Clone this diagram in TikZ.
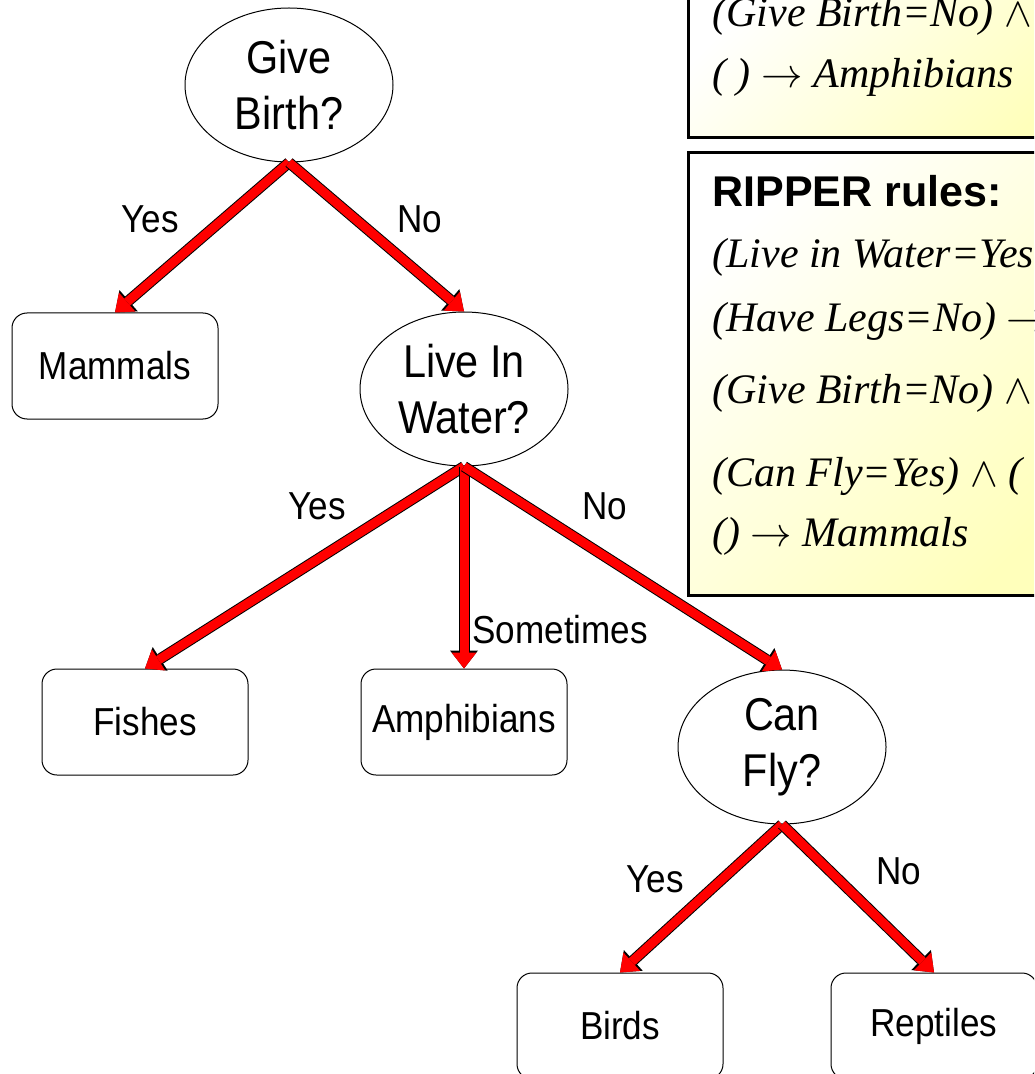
\documentclass[tikz,border=0pt]{standalone}
\usepackage{fontspec}
\setmainfont{Liberation Serif}
\setsansfont{Liberation Sans}
\newfontfamily\treefont{Liberation Sans}[FakeStretch=0.9]
\usepackage{tikz}
\usetikzlibrary{shapes.geometric, arrows.meta, positioning}
\definecolor{branch}{HTML}{FF0000}
\definecolor{rulefill}{HTML}{FFFFBB}
\tikzset{
  question/.style={
    ellipse, draw=black, line width=0.5pt, inner sep=0pt,
    minimum width=104pt, minimum height=77pt, align=center,
    font=\treefont\fontsize{23}{28}\selectfont,
  },
  leaf/.style={
    rectangle, rounded corners=7.5pt, draw=black, line width=0.5pt,
    minimum width=103pt, minimum height=53pt,
    font=\treefont\fontsize{19.5}{22}\selectfont,
  },
  arrow/.style={
    draw=branch, line width=4.5pt,
    -{Triangle[length=8pt, width=12.5pt, line width=0pt]},
    preaction={draw=black, line width=5.5pt,
      -{Triangle[length=9pt, width=14pt, line width=0pt]}},
  },
  lbl/.style={inner sep=0pt, font=\treefont\fontsize{19.5}{22}\selectfont},
  rulebox/.style={draw=black, line width=1.5pt, top color=white, bottom color=rulefill, shading angle=45},
  rulehead/.style={anchor=base west, inner sep=0pt, font=\sffamily\bfseries\fontsize{21.5}{25}\selectfont},
  ruleline/.style={anchor=base west, inner sep=0pt, font=\itshape\fontsize{21}{25}\selectfont},
}

\begin{document}
\begin{tikzpicture}[x=0.5pt, y=-0.5pt]
  \useasboundingbox (0,0) rectangle (1034,1074);
  \clip (0,0) rectangle (1034,1074);

  % Rule listings
  \draw[rulebox] (688,-20) rectangle (1100,138);
  \node[ruleline] (c45a) at (712,27) {(Give Birth=No) $\wedge$};
  \node[ruleline] (c45b) at (712,88) {( ) $\to$ Amphibians};

  \draw[rulebox] (688,153) rectangle (1100,595);
  \node[rulehead] (riphead) at (712,207) {RIPPER rules:};
  \node[ruleline] (rip1) at (712,268) {(Live in Water=Yes};
  \node[ruleline] (rip2) at (712,332) {(Have Legs=No) $\to$};
  \node[ruleline] (rip3) at (712,403) {(Give Birth=No) $\wedge$};
  \node[ruleline] (rip4) at (712,486) {(Can Fly=Yes) $\wedge$ (};
  \node[ruleline] (rip5) at (712,546) {() $\to$ Mammals};

  % Root
  \node[question] (birth) at (289,85) {Give\\Birth?};

  % First split
  \node[leaf, below=75pt of birth, xshift=-87pt] (mammals) {Mammals};
  \node[question, below=74.5pt of birth, xshift=87.5pt] (water) {Live In\\Water?};

  % Second split
  \node[leaf, below=101pt of water, xshift=-159.5pt] (fishes) {Fishes};
  \node[leaf, below=101pt of water] (amphib) {Amphibians};
  \node[question, below=101.5pt of water, xshift=159pt] (fly) {Can\\Fly?};

  % Third split
  \node[leaf, below=74pt of fly, xshift=-81pt] (birds) {Birds};
  \node[leaf, below=74pt of fly, xshift=76pt] (reptiles) {Reptiles};

  % Branches
  \draw[arrow] (birth.south) -- (mammals.north);
  \draw[arrow] (birth.south) -- (water.north);
  \draw[arrow] (water.south) -- (fishes.north);
  \draw[arrow] (water.south) -- (amphib.north);
  \draw[arrow] (water.south) -- (fly.north);
  \draw[arrow] (fly.south) -- (birds.north);
  \draw[arrow] (fly.south) -- (reptiles.north);

  % Branch labels
  \node[lbl] (birthyes) at (150,219) {Yes};
  \node[lbl] (birthno) at (420,219) {No};
  \node[lbl] (wateryes) at (317,506) {Yes};
  \node[lbl] (waterno) at (605,506) {No};
  \node[lbl, anchor=base west] (watersome) at (472,643) {Sometimes};
  \node[lbl] (flyyes) at (655,879) {Yes};
  \node[lbl] (flyno) at (899,871) {No};

\end{tikzpicture}
\end{document}
